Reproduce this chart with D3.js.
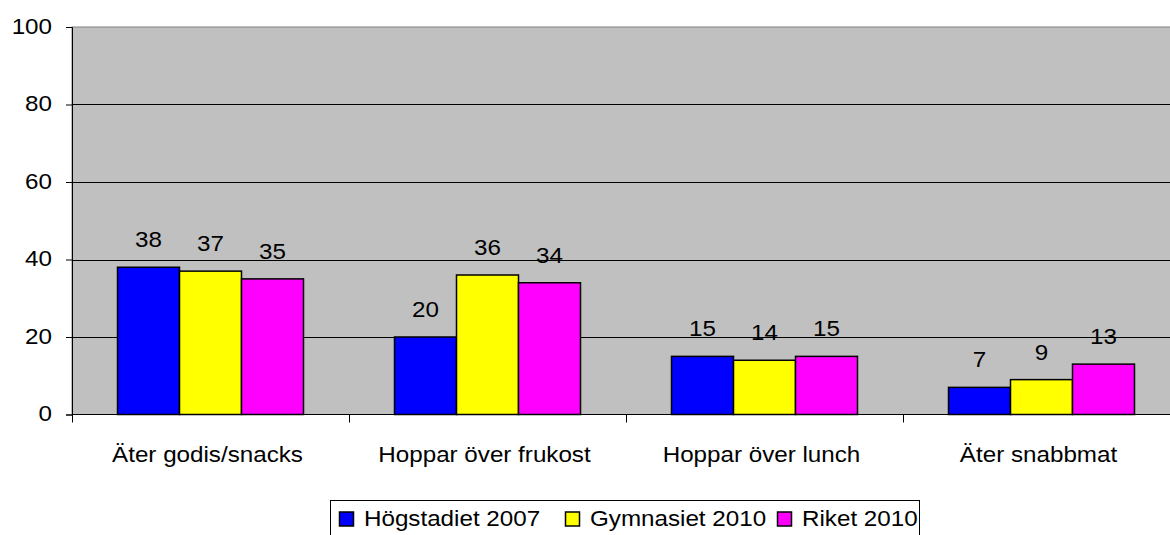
<!DOCTYPE html>
<html>
<head>
<meta charset="utf-8">
<script src="https://cdn.jsdelivr.net/npm/d3@7"></script>
<style>
  body { margin: 0; background: #fff; }
  text { font-family: "Liberation Sans", Arial, sans-serif; fill: #000; }
</style>
</head>
<body>
<div id="chart"></div>
<script>
const categories = ["Äter godis/snacks", "Hoppar över frukost", "Hoppar över lunch", "Äter snabbmat"];
const seriesNames = ["Högstadiet 2007", "Gymnasiet 2010", "Riket 2010"];
const hogstadiet2007 = [38, 20, 15, 7];
const gymnasiet2010 = [37, 36, 14, 9];
const riket2010 = [35, 34, 15, 13];
const yTicks = [0, 20, 40, 60, 80, 100];
const colors = ["#0000ff", "#ffff00", "#ff00ff"];

const seriesValues = [hogstadiet2007, gymnasiet2010, riket2010];

const width = 1170, height = 535;
const margin = {top: 27, right: -10, bottom: 120.5, left: 72};
const plotW = width - margin.left - margin.right;
const plotH = height - margin.top - margin.bottom;
const fs = 22, sx = 1.1; // text is drawn slightly wide, like the original

const svg = d3.select("#chart")
  .append("svg")
  .attr("width", width)
  .attr("height", height);

const g = svg.append("g")
  .attr("transform", `translate(${margin.left},${margin.top})`);

const x0 = d3.scaleBand().domain(categories).range([0, plotW]).padding(0);
const bw = x0.bandwidth();
const gap = (bw - 186) / 2;
const x1 = d3.scaleBand().domain(seriesNames).range([gap, bw - gap]).padding(0);
const y = d3.scaleLinear().domain([0, 100]).range([plotH, 0]);

// plot background
g.append("rect")
  .attr("x", 0).attr("y", 0)
  .attr("width", plotW).attr("height", plotH)
  .attr("fill", "#c0c0c0")
  .attr("stroke", "#808080")
  .attr("stroke-width", 1);

// gridlines
g.selectAll(".grid")
  .data(yTicks.filter(d => d > 0 && d < 100))
  .join("line")
  .attr("x1", 0).attr("x2", plotW)
  .attr("y1", d => Math.round(y(d)) + 0.5)
  .attr("y2", d => Math.round(y(d)) + 0.5)
  .attr("stroke", "#000")
  .attr("stroke-width", 1);

// y axis
const yAxis = g.append("g")
  .call(d3.axisLeft(y).tickValues(yTicks).tickSize(6).tickFormat(""));
yAxis.select(".domain").attr("stroke", "#000");
yAxis.selectAll(".ylabel")
  .data(yTicks)
  .join("text")
  .attr("transform", d => `translate(-20,${y(d) + 6.5}) scale(${sx},1)`)
  .attr("text-anchor", "end")
  .attr("font-size", fs)
  .text(d => d);

// x axis
const xAxis = g.append("g")
  .attr("transform", `translate(0,${plotH})`);
xAxis.append("line")
  .attr("x1", 0).attr("x2", plotW)
  .attr("y1", 0).attr("y2", 0)
  .attr("stroke", "#000");
xAxis.selectAll(".xtick")
  .data(categories)
  .join("line")
  .attr("x1", d => Math.round(x0(d)) + 0.5)
  .attr("x2", d => Math.round(x0(d)) + 0.5)
  .attr("y1", 0).attr("y2", 8)
  .attr("stroke", "#000");
xAxis.selectAll(".xlabel")
  .data(categories)
  .join("text")
  .attr("transform", d => `translate(${x0(d) + bw / 2 - 3},47.5) scale(${sx},1)`)
  .attr("text-anchor", "middle")
  .attr("font-size", fs)
  .text(d => d);

// bars
const groups = g.selectAll(".group")
  .data(categories)
  .join("g")
  .attr("transform", d => `translate(${x0(d)},0)`);

groups.selectAll("rect")
  .data((c, i) => seriesNames.map((s, j) => ({s, j, v: seriesValues[j][i]})))
  .join("rect")
  .attr("x", d => x1(d.s))
  .attr("y", d => y(d.v))
  .attr("width", x1.bandwidth())
  .attr("height", d => plotH - y(d.v))
  .attr("fill", d => colors[d.j])
  .attr("stroke", "#000")
  .attr("stroke-width", 1.5);

groups.selectAll(".val")
  .data((c, i) => seriesNames.map((s, j) => ({s, j, v: seriesValues[j][i]})))
  .join("text")
  .attr("transform", d => `translate(${x1(d.s) + x1.bandwidth() / 2},${y(d.v) - 20}) scale(${sx},1)`)
  .attr("text-anchor", "middle")
  .attr("font-size", fs)
  .text(d => d.v);

// legend
const legend = svg.append("g").attr("transform", "translate(330,500)");
legend.append("rect")
  .attr("x", 0.5).attr("y", 0.5)
  .attr("width", 589).attr("height", 45)
  .attr("fill", "#fff")
  .attr("stroke", "#000");

const legendX = [9, 235, 447];
const items = legend.selectAll(".item")
  .data(seriesNames)
  .join("g")
  .attr("transform", (d, i) => `translate(${legendX[i]},0)`);
items.append("rect")
  .attr("x", 0.5).attr("y", 12)
  .attr("width", 14).attr("height", 14)
  .attr("fill", (d, i) => colors[i])
  .attr("stroke", "#000")
  .attr("stroke-width", 1.5);
items.append("text")
  .attr("transform", `translate(25,26) scale(${sx},1)`)
  .attr("font-size", fs)
  .text(d => d);
</script>
</body>
</html>
